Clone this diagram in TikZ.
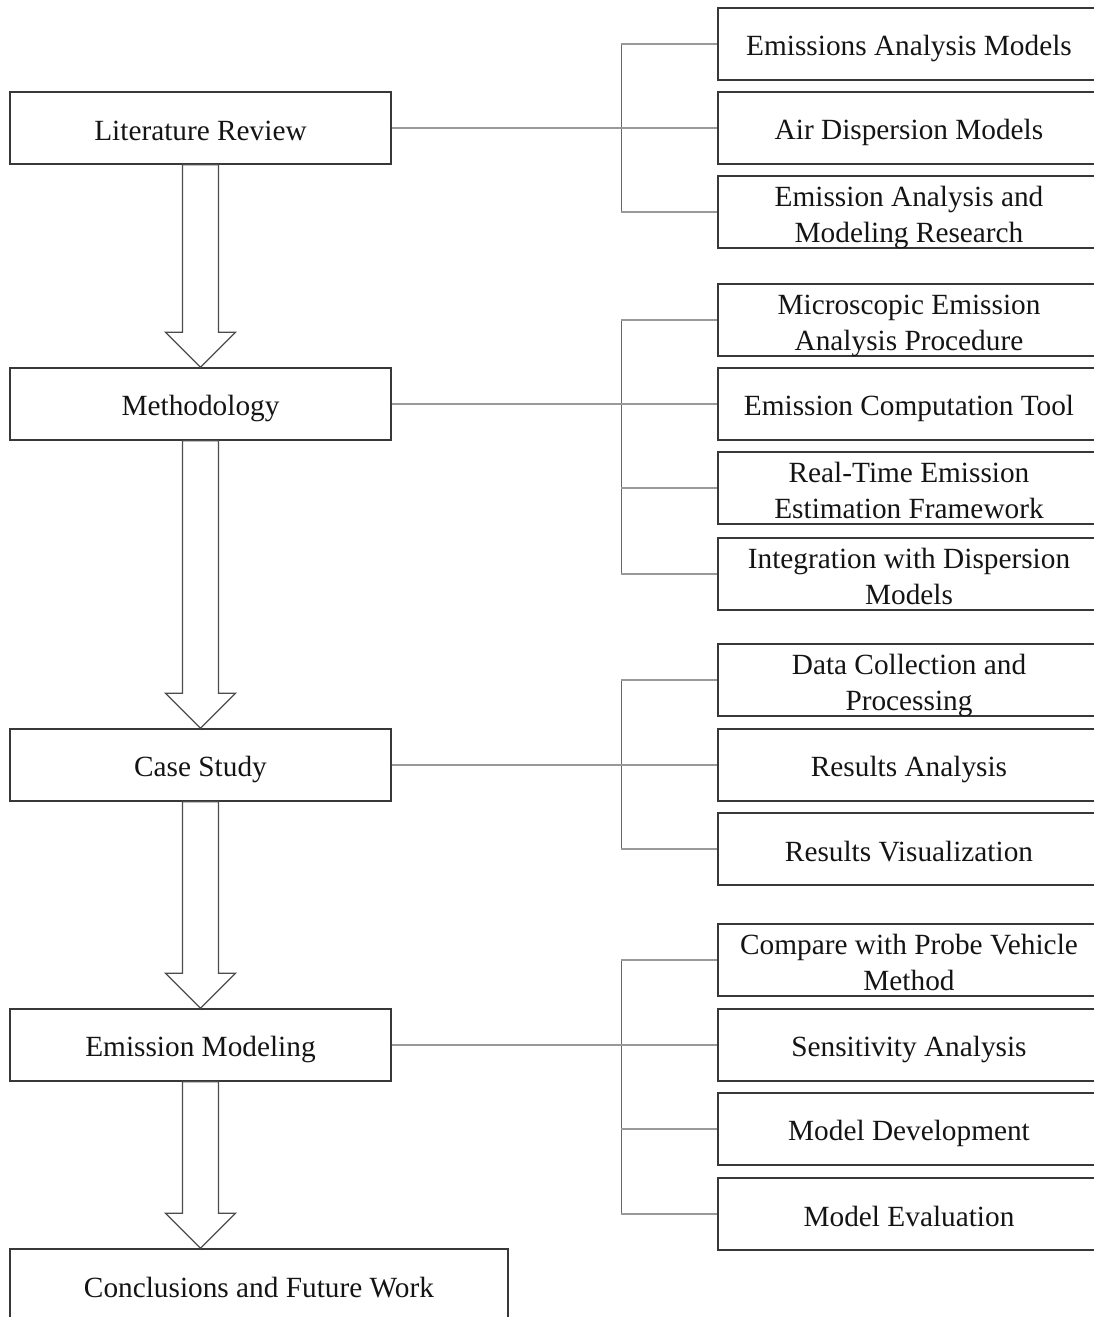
\documentclass[tikz,border=0pt]{standalone}
\usepackage{fontspec}
\setmainfont{Liberation Serif}
% two stacked lines, set a little low in their box
\newcommand\twolines[2]{\raisebox{0pt}[0pt][0pt]{\begin{tabular}{@{}c@{}}#1\\#2\end{tabular}}}
\begin{document}
\begin{tikzpicture}[x=1pt,y=-1pt,
  box/.style={draw=black!78, line width=1.4pt, rectangle, inner sep=0pt,
    minimum height=72pt, text=black!92, align=center,
    font=\fontsize{29.3}{36}\selectfont,
    execute at begin node={\rule{0pt}{30pt}},
    execute at end node={\rule[-6pt]{0pt}{6pt}}},
  leftbox/.style={box, minimum width=381pt},
  rightbox/.style={box, minimum width=382pt},
  branch/.style={draw=black!40, line width=1.1pt},
  trunk/.style={draw=black!60, line width=0.9pt},
  blockarrow/.style={draw=black!70, line width=1.2pt, fill=white, line join=miter}]
\useasboundingbox (0,0) rectangle (1094,1317);
\clip (0,0) rectangle (1094,1317);

% main stages
\node[leftbox] (lr)  at (200.5,128)  {Literature Review};
\node[leftbox] (met) at (200.5,404)  {Methodology};
\node[leftbox] (cs)  at (200.5,765)  {Case Study};
\node[leftbox] (em)  at (200.5,1045) {Emission Modeling};
\node[box, minimum width=498pt] (cfw) at (259,1285) {Conclusions and Future Work};

% sub-topics
\node[rightbox] (eam)  at (909,44)   {Emissions Analysis Models};
\node[rightbox] (adm)  at (909,128)  {Air Dispersion Models};
\node[rightbox] (eamr) at (909,212)  {\twolines{Emission Analysis and}{Modeling Research}};

\node[rightbox] (mea)  at (909,320)  {\twolines{Microscopic Emission}{Analysis Procedure}};
\node[rightbox] (ect)  at (909,404)  {Emission Computation Tool};
\node[rightbox] (rte)  at (909,488)  {\twolines{Real-Time Emission}{Estimation Framework}};
\node[rightbox] (idm)  at (909,574)  {\twolines{Integration with Dispersion}{Models}};

\node[rightbox] (dcp)  at (909,680)  {\twolines{Data Collection and}{Processing}};
\node[rightbox] (ra)   at (909,765)  {Results Analysis};
\node[rightbox] (rv)   at (909,849)  {Results Visualization};

\node[rightbox] (cpv)  at (909,960)  {\twolines{Compare with Probe Vehicle}{Method}};
\node[rightbox] (sa)   at (909,1045) {Sensitivity Analysis};
\node[rightbox] (md)   at (909,1129) {Model Development};
\node[rightbox] (mev)  at (909,1214) {Model Evaluation};

% block arrows between stages
\foreach \a/\b in {lr/met, met/cs, cs/em, em/cfw}{
  \draw[blockarrow]
    ([xshift=-18pt]\a.south)
    -- ([xshift=-18pt,yshift=35pt]\a.south |- \b.north)
    -- ([xshift=-35pt,yshift=35pt]\a.south |- \b.north)
    -- (\a.south |- \b.north)
    -- ([xshift=35pt,yshift=35pt]\a.south |- \b.north)
    -- ([xshift=18pt,yshift=35pt]\a.south |- \b.north)
    -- ([xshift=18pt]\a.south) -- cycle;
}

% bracket connectors
\coordinate (tx) at (621,0);
\draw[trunk] (tx |- eam.west) -- (tx |- eamr.west);
\draw[trunk] (tx |- mea.west) -- (tx |- idm.west);
\draw[trunk] (tx |- dcp.west) -- (tx |- rv.west);
\draw[trunk] (tx |- cpv.west) -- (tx |- mev.west);

\draw[branch] (lr.east) -- (adm.west);
\draw[branch] (met.east) -- (ect.west);
\draw[branch] (cs.east) -- (ra.west);
\draw[branch] (em.east) -- (sa.west);

\foreach \n in {eam, eamr, mea, rte, idm, dcp, rv, cpv, md, mev}
  \draw[branch] (tx |- \n.west) -- (\n.west);
\end{tikzpicture}
\end{document}
